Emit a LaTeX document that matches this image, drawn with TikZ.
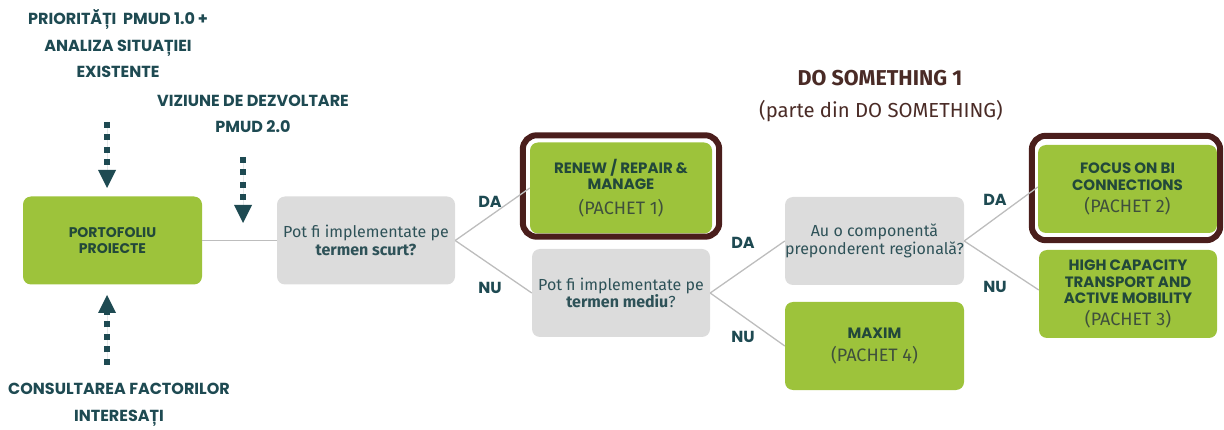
\documentclass[tikz,border=0pt]{standalone}
\usepackage{fontspec}
\setmainfont{Fira Sans}
\newfontfamily\capsf{Poppins}
\usetikzlibrary{arrows.meta}
\definecolor{boxgreen}{HTML}{9DC33B}
\definecolor{boxgray}{HTML}{DCDCDC}
\definecolor{dkteal}{HTML}{1E4A52}
\definecolor{qtxt}{HTML}{2E5258}
\definecolor{boxtxt}{HTML}{22483A}
\definecolor{pachettxt}{HTML}{3F503C}
\definecolor{brownc}{HTML}{4A1E1C}
\definecolor{linegray}{HTML}{BDBDBD}
\definecolor{headbrown}{HTML}{4A2B26}
\tikzset{
  gbox/.style={fill=boxgreen, rounded corners=8pt, minimum width=179pt, minimum height=88pt, inner sep=0pt, align=center, text=boxtxt, font=\capsf\bfseries\fontsize{15}{16.5}\selectfont},
  qbox/.style={fill=boxgray, rounded corners=8pt, minimum width=178pt, minimum height=88pt, inner sep=0pt, align=center, text=qtxt, font=\fontsize{16}{17.5}\selectfont},
  conn/.style={draw=linegray, line width=1.3pt},
  yesno/.style={font=\capsf\bfseries\fontsize{16}{18}\selectfont, text=dkteal},
  headtxt/.style={font=\capsf\bfseries\fontsize{16}{26.5}\selectfont, text=dkteal, align=center},
  dotarrow/.style={draw=dkteal, fill=dkteal, line width=6pt, dash pattern=on 6pt off 6.5pt, -{Triangle[width=18pt,length=18pt,line width=0pt]}},
  hilite/.style={draw=brownc, line width=6pt, rounded corners=14pt}
}
\newcommand{\pachet}[1]{{\mdseries\fontspec{Fira Sans}\color{pachettxt}\fontsize{18}{20}\selectfont(#1)}}
\begin{document}
\begin{tikzpicture}[x=1pt,y=-1pt]
\useasboundingbox (0,0) rectangle (1224,430);

% headings
\node[headtxt] (top1) at (118,44) {PRIORITĂȚI\ \ PMUD 1.0\,+\\ANALIZA SITUAȚIEI\\EXISTENTE};
\node[headtxt] (top2) at (253,114) {VIZIUNE DE DEZVOLTARE\\PMUD 2.0};
\node[headtxt] (bot) at (119,405) {CONSULTAREA FACTORILOR\\INTERESAȚI};
\node[font=\bfseries\fontsize{21.5}{24}\selectfont, text=headbrown] (ds1) at (880,78) {DO SOMETHING 1};
\node[font=\fontsize{20.3}{23}\selectfont, text=headbrown] (ds2) at (881,111) {(parte din DO SOMETHING)};

% boxes
\node[gbox, font=\capsf\bfseries\fontsize{14}{16.5}\selectfont] (port) at (112.5,240.5) {PORTOFOLIU\\PROIECTE};
\node[qbox] (q1) at (366,240.5) {Pot fi implementate pe\\\textbf{termen scurt?}};
\node[gbox, minimum width=182pt, minimum height=91pt] (renew) at (621,188) {RENEW / REPAIR \&\\MANAGE\\[8pt]\pachet{PACHET 1}};
\node[qbox] (q2) at (621,293) {Pot fi implementate pe\\\textbf{termen mediu}?};
\node[qbox, minimum width=179pt] (au) at (874.5,241) {Au o componentă\\preponderent regională?};
\node[gbox] (maxim) at (874.5,346) {MAXIM\\[6pt]\pachet{PACHET 4}};
\node[gbox] (focus) at (1127.5,189) {FOCUS ON BI\\CONNECTIONS\\[6pt]\pachet{PACHET 2}};
\node[gbox, minimum width=178pt] (high) at (1128,294) {HIGH CAPACITY\\TRANSPORT AND\\ACTIVE MOBILITY\\[5pt]\pachet{PACHET 3}};

% highlight frames
\draw[hilite] ([shift={(-7pt,7pt)}]renew.north west) rectangle ([shift={(7pt,-3pt)}]renew.south east);
\draw[hilite] ([shift={(-6pt,9pt)}]focus.north west) rectangle ([shift={(3pt,-7pt)}]focus.south east);

% connectors
\draw[conn] (port.east) -- (q1.west);
\draw[conn] (q1.east) -- (renew.west);
\draw[conn] (q1.east) -- (q2.west);
\draw[conn] (q2.east) -- (au.west);
\draw[conn] (q2.east) -- (maxim.west);
\draw[conn] (au.east) -- ([yshift=2pt]focus.west);
\draw[conn] (au.east) -- ([yshift=4pt]high.west);

% yes/no labels
\node[yesno] (l1) at (490,202) {DA};
\node[yesno] (l2) at (490,288) {NU};
\node[yesno] (l3) at (743,243) {DA};
\node[yesno] (l4) at (743,337) {NU};
\node[yesno] (l5) at (995,200) {DA};
\node[yesno] (l6) at (995,287) {NU};

% dotted arrows
\coordinate (a1s) at (107,122);
\coordinate (a1e) at (107,188);
\coordinate (a2s) at (243,157);
\coordinate (a2e) at (243,223);
\coordinate (a3s) at (107,365);
\coordinate (a3e) at (107,295);
\draw[dotarrow] (a1s) -- (a1e);
\draw[dotarrow] (a2s) -- (a2e);
\draw[dotarrow] (a3s) -- (a3e);
\end{tikzpicture}
\end{document}
